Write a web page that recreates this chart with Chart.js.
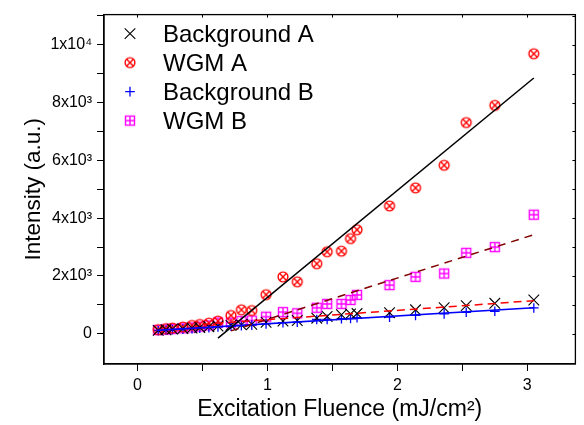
<!DOCTYPE html>
<html><head><meta charset="utf-8">
<script src="https://cdn.jsdelivr.net/npm/chart.js@4.4.0/dist/chart.umd.min.js"></script>
<style>html,body{margin:0;padding:0;background:#fff}#wrap{width:584px;height:425px;position:relative}</style>
</head><body><div id="wrap"><canvas id="c"></canvas></div>
<script>
// ---- data ----
const fluence = [0.16, 0.22, 0.27, 0.35, 0.42, 0.48, 0.55, 0.62, 0.72, 0.80, 0.88, 0.99, 1.12, 1.23, 1.38, 1.46, 1.57, 1.64, 1.69, 1.94, 2.14, 2.36, 2.53, 2.75, 3.05];
const backgroundA = [120, 140, 160, 180, 200, 220, 245, 270, 290, 310, 330, 400, 440, 460, 540, 600, 660, 690, 700, 730, 830, 900, 975, 1055, 1170];
const wgmA = [145, 180, 200, 235, 290, 325, 370, 440, 635, 830, 805, 1355, 1970, 1800, 2425, 2840, 2860, 3295, 3600, 4425, 5050, 5830, 7310, 7905, 9690];
const backgroundB = [110, 125, 140, 160, 175, 190, 210, 240, 260, 280, 300, 345, 385, 405, 495, 500, 520, 530, 560, 575, 635, 690, 745, 780, 895];
const wgmB = [130, 150, 170, 190, 220, 250, 290, 390, 385, 440, 460, 590, 750, 710, 900, 1035, 1035, 1170, 1345, 1685, 1970, 2085, 2800, 3000, 4120];
// linear fit end points
const fitWgmAx = [0.62, 3.05];  const fitWgmAy = [-150, 8850];
const fitBgAx = [0.5, 3.05];    const fitBgAy = [330, 1146];
const fitWgmBx = [0.72, 3.05];  const fitWgmBy = [100, 3430];
const fitBgBx = [0.15, 3.05];   const fitBgBy = [120, 900];
const seriesLabels = ['Background A', 'WGM A', 'Background B', 'WGM B'];
// tick values (major + minor) and labels for the major ones
const xTickValues = [0, 0.5, 1, 1.5, 2, 2.5, 3];
const xTickLabels = {0: '0', 1: '1', 2: '2', 3: '3'};
const yTickValues = [0, 1000, 2000, 3000, 4000, 5000, 6000, 7000, 8000, 9000, 10000, 11000];
const yTickLabels = {0: '0', 2000: '2x10³', 4000: '4x10³', 6000: '6x10³', 8000: '8x10³', 10000: '1x10⁴'};

function pts(xs, ys) { return xs.map((x, i) => ({x: x, y: ys[i]})); }

function makeMarker(kind) {
  const s = 14, c = document.createElement('canvas');
  c.width = s; c.height = s;
  const g = c.getContext('2d');
  const m = s / 2;
  g.lineWidth = 1.4;
  if (kind === 'circx') {
    g.strokeStyle = '#ff0000';
    g.beginPath(); g.arc(m, m, 4.9, 0, Math.PI * 2); g.stroke();
    const d = 3.4;
    g.beginPath(); g.moveTo(m - d, m - d); g.lineTo(m + d, m + d);
    g.moveTo(m + d, m - d); g.lineTo(m - d, m + d); g.stroke();
  } else {
    g.strokeStyle = '#ff00ff';
    const h = 4.5;
    g.strokeRect(m - h, m - h, 2 * h, 2 * h);
    g.beginPath(); g.moveTo(m, m - h); g.lineTo(m, m + h);
    g.moveTo(m - h, m); g.lineTo(m + h, m); g.stroke();
  }
  return c;
}
const circX = makeMarker('circx');
const sqPlus = makeMarker('sqplus');

const innerLegend = {
  id: 'innerLegend',
  afterDatasetsDraw(chart) {
    const ctx = chart.ctx, a = chart.chartArea;
    ctx.save();
    let i = 0;
    chart.data.datasets.forEach(ds => {
      if (!ds.inLegend) return;
      const y = a.top + 19 + i * 29;
      const x = a.left + 26;
      ctx.strokeStyle = ds.borderColor;
      ctx.fillStyle = ds.borderColor;
      ctx.lineWidth = ds.borderWidth || 1;
      Chart.helpers.drawPoint(ctx, {pointStyle: ds.pointStyle, radius: ds.pointRadius, rotation: 0, borderWidth: ds.borderWidth}, x, y);
      ctx.fillStyle = '#000';
      ctx.font = '24px "Liberation Sans", Arial, sans-serif';
      ctx.textBaseline = 'alphabetic';
      ctx.textAlign = 'left';
      ctx.fillText(ds.label, a.left + 59, y + 8);
      i++;
    });
    ctx.restore();
  }
};

const frame = {
  id: 'frame',
  afterDraw(chart) {
    const ctx = chart.ctx, a = chart.chartArea;
    const xs = chart.scales.x, ys = chart.scales.y;
    ctx.save();
    ctx.strokeStyle = '#000';
    ctx.lineWidth = 1.3;
    ctx.strokeRect(a.left, a.top, a.right - a.left, a.bottom - a.top);
    ctx.lineWidth = 1;
    ctx.beginPath();
    xs.ticks.forEach(t => {
      const px = Math.round(xs.getPixelForValue(t.value)) + 0.5;
      ctx.moveTo(px, a.top); ctx.lineTo(px, a.top + 3);
    });
    ys.ticks.forEach(t => {
      const py = Math.round(ys.getPixelForValue(t.value)) + 0.5;
      ctx.moveTo(a.right, py); ctx.lineTo(a.right - 3, py);
    });
    ctx.stroke();
    ctx.restore();
  }
};

const tickFont = {family: '"Liberation Sans", Arial, sans-serif', size: 16};
const xTitleFont = {family: '"Liberation Sans", Arial, sans-serif', size: 23};
const yTitleFont = {family: '"Liberation Sans", Arial, sans-serif', size: 22.5};

function labelFor(map, v) {
  let found = '';
  Object.keys(map).forEach(k => { if (Math.abs(Number(k) - v) < 1e-6 * Math.max(1, Math.abs(v))) found = map[k]; });
  return found;
}

new Chart(document.getElementById('c'), {
  type: 'scatter',
  data: {
    datasets: [
      {label: 'fit WGM A', type: 'line', data: pts(fitWgmAx, fitWgmAy), borderColor: '#000', borderWidth: 1.5, pointRadius: 0, showLine: true, fill: false},
      {label: 'fit Background A', type: 'line', data: pts(fitBgAx, fitBgAy), borderColor: '#ff0000', borderWidth: 1.5, borderDash: [8, 5], pointRadius: 0, showLine: true, fill: false},
      {label: 'fit WGM B', type: 'line', data: pts(fitWgmBx, fitWgmBy), borderColor: '#800000', borderWidth: 1.5, borderDash: [8, 6], pointRadius: 0, showLine: true, fill: false},
      {label: 'fit Background B', type: 'line', data: pts(fitBgBx, fitBgBy), borderColor: '#0000ff', borderWidth: 1.6, pointRadius: 0, showLine: true, fill: false},
      {label: seriesLabels[0], inLegend: true, data: pts(fluence, backgroundA), pointStyle: 'crossRot', pointRadius: 7.5, borderColor: '#000', backgroundColor: '#000', borderWidth: 1.1, pointHoverRadius: 7.5},
      {label: seriesLabels[1], inLegend: true, data: pts(fluence, wgmA), pointStyle: circX, pointRadius: 5, borderColor: '#ff0000', backgroundColor: '#ff0000', borderWidth: 1},
      {label: seriesLabels[2], inLegend: true, data: pts(fluence, backgroundB), pointStyle: 'cross', pointRadius: 4.8, borderColor: '#0000ff', backgroundColor: '#0000ff', borderWidth: 1.3, pointHoverRadius: 4.8},
      {label: seriesLabels[3], inLegend: true, data: pts(fluence, wgmB), pointStyle: sqPlus, pointRadius: 5, borderColor: '#ff00ff', backgroundColor: '#ff00ff', borderWidth: 1}
    ]
  },
  options: {
    responsive: true,
    maintainAspectRatio: false,
    animation: false,
    events: [],
    layout: {padding: {top: 11, right: 4, left: 0, bottom: 0}},
    plugins: {legend: {display: false}, tooltip: {enabled: false}},
    scales: {
      x: {
        type: 'linear', min: -0.257, max: 3.37,
        afterFit(s) { s.height = 61; },
        afterBuildTicks(s) { s.ticks = xTickValues.map(v => ({value: v})); },
        ticks: {
          color: '#000', font: tickFont, padding: 5, maxRotation: 0, minRotation: 0, autoSkip: false,
          callback: v => labelFor(xTickLabels, v)
        },
        grid: {drawOnChartArea: false, drawTicks: true, tickLength: 7, color: '#000', lineWidth: 1},
        border: {display: true, color: '#000', width: 1.3},
        title: {display: true, text: 'Excitation Fluence (mJ/cm²)', color: '#000', font: xTitleFont, padding: {top: 0, bottom: 2}}
      },
      y: {
        type: 'linear', min: -1045, max: 11044,
        afterFit(s) { s.width = 104; },
        afterBuildTicks(s) { s.ticks = yTickValues.map(v => ({value: v})); },
        ticks: {
          color: '#000', font: tickFont, padding: 5, autoSkip: false,
          callback: v => labelFor(yTickLabels, v)
        },
        grid: {drawOnChartArea: false, drawTicks: true, tickLength: 7, color: '#000', lineWidth: 1},
        border: {display: true, color: '#000', width: 1.3},
        title: {display: true, text: 'Intensity (a.u.)', color: '#000', font: yTitleFont, padding: {top: 20, bottom: 0}}
      }
    }
  },
  plugins: [innerLegend, frame]
});
</script>
</body></html>
